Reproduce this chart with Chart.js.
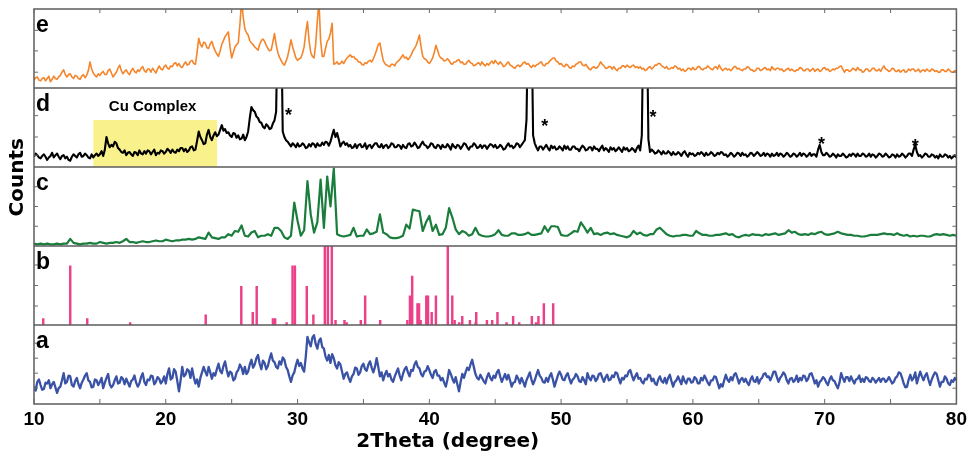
<!DOCTYPE html>
<html lang="en">
<head>
<meta charset="UTF-8">
<title>XRD patterns</title>
<script src="https://cdn.jsdelivr.net/npm/chart.js"></script>
<style>
  body { margin: 0; background: #fff; }
</style>
</head>
<body>
<canvas id="xrd" width="971" height="454"></canvas>
<script>
// scans start at 10 deg 2theta; a, d, e are stepped at 0.125 deg, c at 0.25 deg
const theta0 = 10
const fineStep = 0.125
const coarseStep = 0.25

// counts are in % of each panel's height (values over 100 run off the top)
const countsE = [
  10, 13, 14, 10, 9, 12, 13, 9, 12, 15, 8, 11, 15, 12, 11, 14,
  16, 20, 23, 17, 14, 17, 18, 14, 12, 16, 15, 12, 11, 15, 17, 13,
  16, 22, 33, 24, 19, 16, 14, 18, 16, 19, 21, 17, 17, 22, 24, 19,
  14, 17, 20, 25, 29, 22, 18, 21, 23, 19, 17, 22, 25, 21, 19, 23,
  21, 25, 27, 22, 20, 24, 24, 20, 25, 22, 19, 24, 28, 24, 23, 27,
  29, 25, 24, 28, 27, 31, 32, 28, 31, 27, 26, 30, 33, 29, 30, 34,
  35, 31, 30, 45, 63, 55, 52, 58, 57, 51, 50, 56, 59, 52, 47, 43,
  40, 47, 55, 60, 65, 68, 71, 52, 38, 45, 52, 55, 57, 80, 110, 90,
  75, 70, 67, 60, 57, 55, 52, 50, 48, 55, 60, 62, 59, 54, 50, 47,
  48, 58, 69, 55, 45, 39, 35, 31, 29, 34, 40, 50, 61, 52, 45, 38,
  35, 37, 38, 44, 52, 70, 84, 60, 45, 40, 38, 55, 85, 110, 60, 40,
  40, 50, 59, 62, 70, 82, 30, 31, 33, 30, 31, 34, 31, 35, 38, 40,
  42, 39, 40, 37, 36, 33, 33, 30, 29, 32, 31, 34, 35, 33, 37, 42,
  48, 55, 57, 45, 35, 31, 29, 28, 27, 30, 30, 28, 32, 34, 36, 39,
  42, 38, 39, 36, 38, 42, 47, 50, 54, 60, 67, 52, 40, 37, 36, 33,
  31, 34, 38, 45, 54, 48, 41, 38, 37, 34, 35, 37, 35, 31, 30, 33,
  33, 35, 36, 32, 33, 30, 30, 33, 35, 32, 31, 28, 29, 31, 32, 29,
  33, 30, 28, 31, 29, 32, 34, 31, 35, 32, 30, 33, 31, 27, 28, 31,
  33, 29, 28, 26, 25, 28, 29, 27, 29, 32, 33, 30, 31, 28, 26, 29,
  27, 29, 30, 32, 33, 29, 28, 31, 31, 34, 36, 38, 38, 34, 33, 30,
  31, 28, 27, 30, 29, 26, 25, 28, 27, 30, 31, 33, 33, 29, 28, 30,
  27, 24, 23, 26, 27, 25, 26, 29, 33, 30, 28, 25, 25, 27, 27, 24,
  27, 24, 22, 25, 25, 28, 28, 26, 29, 27, 26, 28, 29, 26, 27, 25,
  27, 24, 25, 22, 23, 26, 27, 24, 26, 29, 29, 31, 31, 28, 27, 25,
  27, 24, 24, 26, 25, 28, 27, 24, 25, 22, 24, 21, 22, 25, 25, 23,
  26, 23, 24, 27, 27, 24, 23, 25, 25, 28, 26, 24, 23, 26, 27, 24,
  29, 25, 22, 24, 25, 23, 24, 22, 24, 27, 27, 24, 25, 23, 22, 24,
  24, 27, 26, 23, 23, 21, 22, 25, 25, 22, 23, 25, 26, 23, 24, 22,
  27, 24, 23, 25, 25, 23, 24, 21, 22, 24, 25, 22, 24, 22, 21, 23,
  23, 26, 25, 22, 22, 24, 24, 21, 23, 25, 21, 23, 24, 21, 22, 25,
  26, 23, 24, 21, 22, 24, 23, 25, 25, 27, 28, 24, 20, 23, 23, 21,
  22, 25, 24, 22, 26, 23, 23, 20, 21, 24, 24, 21, 22, 25, 25, 22,
  22, 24, 21, 25, 28, 24, 23, 21, 22, 25, 24, 21, 21, 23, 20, 22,
  23, 20, 21, 24, 22, 24, 24, 21, 22, 24, 20, 22, 23, 21, 24, 22,
  21, 24, 23, 21, 22, 20, 20, 23, 23, 21, 21, 24, 22, 20, 20, 22,
  21
]

const countsD = [
  13, 17, 15, 12, 11, 14, 16, 13, 9, 12, 14, 18, 12, 15, 17, 13,
  10, 14, 15, 11, 13, 9, 8, 13, 16, 14, 12, 16, 18, 13, 14, 17,
  15, 12, 11, 16, 12, 15, 17, 14, 16, 20, 14, 22, 38, 30, 25, 28,
  26, 32, 30, 24, 22, 19, 18, 21, 15, 18, 19, 16, 14, 19, 18, 15,
  21, 17, 16, 20, 17, 21, 20, 16, 19, 22, 15, 18, 17, 21, 20, 17,
  19, 23, 21, 18, 22, 19, 18, 22, 20, 24, 24, 20, 23, 19, 21, 25,
  26, 21, 22, 33, 45, 38, 34, 29, 30, 41, 47, 38, 34, 40, 44, 39,
  41, 47, 53, 46, 48, 43, 44, 40, 38, 43, 42, 37, 40, 35, 36, 41,
  34, 38, 45, 62, 76, 72, 70, 64, 62, 57, 56, 51, 49, 54, 52, 48,
  49, 55, 59, 70, 200, 200, 200, 45, 38, 34, 32, 29, 26, 30, 28, 25,
  30, 26, 27, 30, 28, 24, 25, 29, 26, 30, 29, 25, 30, 27, 27, 31,
  28, 32, 31, 27, 32, 40, 47, 38, 43, 35, 26, 30, 32, 28, 30, 26,
  28, 24, 25, 29, 24, 28, 29, 25, 26, 30, 23, 27, 28, 24, 27, 30,
  30, 26, 25, 29, 24, 27, 28, 24, 26, 30, 29, 25, 25, 28, 27, 23,
  28, 25, 24, 29, 30, 26, 27, 31, 28, 24, 25, 29, 32, 28, 27, 24,
  26, 30, 29, 25, 24, 28, 27, 23, 28, 25, 25, 29, 26, 22, 29, 26,
  24, 28, 27, 23, 26, 30, 29, 25, 22, 26, 26, 30, 28, 24, 25, 28,
  24, 27, 27, 23, 26, 29, 28, 25, 28, 24, 25, 28, 26, 22, 23, 27,
  30, 26, 27, 24, 26, 30, 29, 25, 28, 31, 34, 60, 200, 200, 200, 40,
  30, 25, 21, 26, 26, 22, 25, 28, 24, 21, 27, 24, 26, 22, 23, 26,
  24, 21, 27, 23, 26, 22, 22, 26, 26, 23, 23, 20, 24, 27, 25, 21,
  22, 25, 25, 21, 26, 23, 23, 20, 24, 27, 21, 24, 22, 19, 25, 22,
  24, 20, 22, 25, 22, 19, 25, 22, 24, 20, 21, 24, 22, 19, 24, 27,
  21, 40, 200, 200, 200, 35, 19, 22, 20, 17, 18, 21, 19, 16, 20, 17,
  17, 20, 18, 15, 19, 16, 16, 19, 17, 14, 18, 20, 16, 13, 18, 16,
  17, 14, 15, 18, 16, 19, 17, 14, 18, 15, 16, 19, 17, 14, 15, 18,
  16, 19, 18, 15, 16, 13, 15, 18, 16, 13, 15, 18, 17, 14, 18, 15,
  16, 13, 15, 18, 17, 14, 16, 19, 17, 14, 15, 18, 14, 17, 16, 13,
  17, 14, 15, 18, 14, 17, 16, 13, 15, 18, 16, 13, 14, 17, 16, 13,
  15, 18, 14, 17, 16, 13, 15, 18, 14, 16, 16, 13, 22, 28, 19, 15,
  15, 18, 16, 13, 14, 17, 15, 12, 16, 14, 14, 17, 15, 12, 13, 16,
  14, 17, 16, 13, 17, 14, 14, 17, 16, 13, 14, 17, 13, 16, 15, 12,
  14, 17, 16, 13, 14, 17, 15, 12, 13, 16, 15, 12, 16, 13, 14, 17,
  15, 12, 14, 17, 17, 14, 22, 28, 19, 14, 15, 12, 14, 17, 16, 13,
  13, 16, 15, 12, 14, 11, 16, 13, 13, 16, 15, 12, 14, 11, 13, 15,
  12
]

const countsC = [
  3, 2, 3, 2, 3, 2, 2, 3,
  2, 3, 3, 9, 4, 3, 2, 3,
  3, 4, 3, 3, 5, 4, 3, 4,
  4, 5, 4, 6, 9, 5, 5, 4,
  5, 6, 5, 5, 6, 7, 6, 6,
  8, 7, 6, 7, 7, 8, 8, 9,
  8, 9, 11, 10, 9, 17, 11, 10,
  9, 11, 11, 15, 13, 19, 18, 26,
  13, 12, 17, 19, 11, 13, 13, 15,
  13, 23, 23, 19, 11, 9, 13, 55,
  32, 13, 20, 82, 40, 17, 30, 84,
  23, 88, 50, 98, 15, 13, 12, 13,
  14, 23, 12, 13, 13, 21, 15, 16,
  18, 40, 17, 15, 11, 10, 10, 11,
  13, 27, 22, 46, 45, 44, 19, 30,
  38, 19, 27, 14, 15, 23, 48, 36,
  21, 15, 19, 17, 13, 15, 23, 15,
  13, 12, 12, 13, 15, 20, 14, 13,
  13, 16, 16, 14, 14, 15, 17, 14,
  14, 15, 16, 25, 18, 25, 25, 24,
  14, 13, 13, 16, 19, 18, 30, 24,
  17, 23, 15, 16, 14, 16, 17, 15,
  16, 14, 13, 12, 11, 13, 19, 15,
  17, 14, 13, 15, 15, 21, 23, 19,
  15, 13, 12, 13, 13, 14, 14, 13,
  13, 19, 16, 14, 14, 13, 13, 14,
  14, 15, 16, 14, 15, 12, 11, 13,
  14, 13, 15, 14, 14, 13, 15, 14,
  15, 16, 14, 15, 16, 20, 17, 18,
  15, 14, 15, 14, 16, 15, 17, 18,
  15, 14, 15, 16, 18, 16, 15, 14,
  14, 13, 13, 12, 12, 13, 14, 14,
  14, 15, 16, 15, 15, 14, 16, 14,
  13, 14, 12, 13, 12, 13, 13, 12,
  12, 14, 15, 14, 15, 14, 13, 14,
  13
]

const countsA = [
  22, 17, 28, 31, 24, 18, 19, 27, 26, 30, 20, 25, 28, 21, 14, 20,
  22, 30, 39, 26, 28, 36, 35, 24, 22, 29, 33, 25, 20, 27, 31, 36,
  39, 30, 28, 21, 22, 31, 30, 24, 28, 33, 20, 27, 33, 38, 25, 21,
  24, 30, 35, 26, 27, 34, 32, 25, 32, 27, 22, 29, 31, 36, 27, 22,
  26, 34, 39, 28, 24, 31, 30, 36, 35, 25, 28, 34, 32, 26, 29, 35,
  26, 38, 45, 31, 33, 44, 41, 29, 16, 30, 47, 35, 37, 44, 42, 33,
  45, 34, 26, 31, 22, 33, 40, 47, 41, 36, 47, 40, 32, 39, 36, 44,
  51, 42, 39, 48, 54, 43, 35, 41, 39, 30, 32, 40, 43, 50, 46, 38,
  47, 38, 41, 50, 56, 46, 50, 58, 62, 51, 44, 55, 52, 44, 48, 57,
  64, 55, 53, 47, 45, 54, 50, 59, 56, 47, 43, 35, 28, 36, 40, 49,
  56, 48, 52, 45, 41, 60, 85, 78, 73, 84, 87, 76, 70, 80, 83, 72,
  70, 60, 55, 62, 52, 63, 58, 49, 45, 53, 50, 41, 32, 38, 40, 33,
  28, 35, 38, 46, 45, 37, 40, 48, 51, 44, 42, 50, 54, 46, 40, 47,
  58, 47, 35, 40, 30, 37, 42, 35, 38, 31, 28, 35, 40, 45, 36, 30,
  38, 44, 47, 40, 35, 43, 42, 50, 54, 47, 45, 38, 35, 41, 42, 48,
  43, 37, 33, 41, 43, 36, 36, 30, 33, 27, 22, 31, 43, 38, 32, 27,
  34, 25, 16, 28, 38, 33, 40, 46, 43, 50, 56, 47, 38, 33, 31, 37,
  33, 29, 26, 34, 39, 33, 30, 36, 33, 40, 43, 35, 28, 33, 38, 31,
  37, 30, 22, 27, 28, 36, 32, 26, 33, 28, 22, 30, 35, 40, 31, 25,
  30, 37, 43, 36, 33, 28, 27, 33, 28, 35, 39, 31, 22, 29, 36, 41,
  37, 31, 30, 36, 39, 32, 26, 31, 33, 38, 35, 29, 28, 34, 30, 25,
  39, 33, 30, 36, 35, 29, 32, 38, 39, 33, 28, 34, 37, 30, 31, 36,
  34, 40, 39, 32, 26, 33, 31, 36, 35, 41, 43, 36, 30, 35, 39, 32,
  33, 28, 26, 32, 31, 37, 36, 29, 32, 26, 24, 31, 35, 29, 27, 33,
  26, 33, 37, 29, 22, 28, 30, 35, 30, 25, 35, 29, 26, 32, 32, 27,
  28, 34, 32, 26, 26, 33, 30, 36, 32, 27, 24, 30, 30, 35, 34, 27,
  20, 25, 22, 30, 37, 31, 28, 34, 30, 37, 39, 33, 26, 31, 33, 28,
  32, 27, 24, 31, 35, 29, 28, 34, 26, 31, 33, 38, 39, 34, 35, 30,
  35, 41, 41, 34, 28, 33, 36, 40, 37, 30, 26, 32, 33, 28, 30, 36,
  28, 33, 30, 36, 35, 29, 32, 38, 39, 33, 26, 30, 22, 28, 30, 34,
  32, 27, 24, 31, 35, 30, 29, 24, 20, 27, 39, 33, 28, 34, 34, 29,
  35, 30, 26, 31, 32, 36, 28, 32, 28, 34, 33, 29, 28, 33, 31, 27,
  30, 33, 28, 32, 32, 28, 30, 34, 30, 26, 28, 33, 35, 40, 39, 33,
  26, 21, 22, 31, 37, 30, 33, 40, 26, 34, 41, 35, 30, 36, 39, 31,
  24, 31, 36, 40, 38, 30, 22, 28, 28, 35, 32, 26, 24, 30, 28, 33,
  30
]

// reference pattern (b): line positions and relative intensities
const stickTheta = [10.7, 12.75, 14.04, 17.3, 23.03, 25.73, 26.6, 26.9, 28.13, 28.3,
  29.17, 29.62, 29.8, 30.7, 31.2, 32.07, 32.3, 32.6, 32.88, 33.56,
  33.73, 34.8, 35.13, 36.27, 38.33, 38.53, 38.7, 39.1, 39.22, 39.34,
  39.77, 39.9, 40.18, 40.5, 41.4, 41.74, 41.92, 42.27, 42.5, 43.08,
  43.51, 43.56, 44.37, 44.77, 45.17, 45.86, 46.36, 46.82, 47.78, 48.1,
  48.28, 48.69, 49.4]
const stickInt = [8, 75, 8, 3, 13, 49, 16, 49, 8, 8,
  3, 75, 75, 49, 13, 100, 100, 100, 6, 6,
  3, 6, 37, 6, 6, 37, 62, 27, 27, 6,
  37, 37, 16, 37, 100, 37, 6, 3, 11, 6,
  3, 16, 6, 6, 16, 3, 11, 3, 11, 3,
  11, 27, 27]

// impurity reflections marked with * in pattern (d)
const starTheta = [29.32, 48.75, 56.97, 69.77, 76.87]
const starCounts = [71, 57, 68, 34, 32]

// highlighted Cu complex region in pattern (d)
const cuRange = [14.49, 23.91]
const cuTop = 59.5

const panelLabels = ['a', 'b', 'c', 'd', 'e']   // bottom to top
const xTicks = [10, 20, 30, 40, 50, 60, 70, 80]
// small inner ticks on the side axes, % of panel height
const sideTicks = [[20, 39, 58, 77], [24, 50, 76], [25, 50, 75], [15, 38, 65], [20, 47, 73]]

const font = "'Liberation Sans', Arial, sans-serif"
const titleFont = "'DejaVu Sans', sans-serif"

function toPoints(counts, panel, step) {
  return counts.map((v, i) => ({ x: theta0 + i * step, y: panel + v / 100 }))
}

function lineSet(counts, step, panel, color, width) {
  return {
    type: 'line',
    data: toPoints(counts, panel, step),
    panel: panel,
    borderColor: color,
    borderWidth: width,
    borderJoinStyle: 'round',
    pointRadius: 0,
    fill: false,
    tension: 0
  }
}

// keep each pattern inside its own panel
const panelClip = {
  id: 'panelClip',
  beforeDatasetDraw(chart, args) {
    const ds = chart.data.datasets[args.index]
    if (ds.panel === undefined) return
    const { left, right } = chart.chartArea
    const y = chart.scales.y
    const top = y.getPixelForValue(ds.panel + 1)
    const bottom = y.getPixelForValue(ds.panel)
    chart.ctx.save()
    chart.ctx.beginPath()
    chart.ctx.rect(left, top, right - left, bottom - top)
    chart.ctx.clip()
  },
  afterDatasetDraw(chart, args) {
    const ds = chart.data.datasets[args.index]
    if (ds.panel === undefined) return
    chart.ctx.restore()
  }
}

// frame, panel dividers, inward ticks and all the text
const decor = {
  id: 'decor',
  afterDraw(chart) {
    const ctx = chart.ctx
    const { left, right, top, bottom } = chart.chartArea
    const x = chart.scales.x
    const y = chart.scales.y
    ctx.save()
    ctx.strokeStyle = '#5c5c5c'
    ctx.lineWidth = 1.5
    ctx.strokeRect(left, top, right - left, bottom - top)
    ctx.beginPath()
    for (let p = 1; p < 5; p++) {
      const py = y.getPixelForValue(p)
      ctx.moveTo(left, py)
      ctx.lineTo(right, py)
    }
    ctx.stroke()

    ctx.lineWidth = 1
    ctx.strokeStyle = '#6a6a6a'
    ctx.beginPath()
    for (let t = 10; t <= 80; t += 5) {
      const px = x.getPixelForValue(t)
      ctx.moveTo(px, bottom)
      ctx.lineTo(px, bottom - 5)
      ctx.moveTo(px, top)
      ctx.lineTo(px, top + 4)
    }
    sideTicks.forEach((list, p) => {
      list.forEach(v => {
        const py = y.getPixelForValue(p + v / 100)
        ctx.moveTo(left, py)
        ctx.lineTo(left + 4, py)
        ctx.moveTo(right, py)
        ctx.lineTo(right - 4, py)
      })
    })
    ctx.stroke()

    ctx.fillStyle = '#000'
    ctx.textAlign = 'left'
    ctx.textBaseline = 'alphabetic'
    ctx.font = 'bold 23px ' + font
    panelLabels.forEach((lab, p) => {
      ctx.fillText(lab, left + 2, y.getPixelForValue(p + 1) + 23)
    })

    ctx.textAlign = 'center'
    ctx.font = 'bold 15px ' + font
    ctx.textBaseline = 'middle'
    ctx.fillText('Cu Complex', x.getPixelForValue(19.0), y.getPixelForValue(3.76))

    ctx.font = 'bold 18px ' + font
    ctx.textBaseline = 'alphabetic'
    starTheta.forEach((t, i) => {
      ctx.fillText('*', x.getPixelForValue(t), y.getPixelForValue(3 + starCounts[i] / 100) + 10)
    })

    ctx.font = 'bold 20px ' + titleFont
    ctx.fillText('2Theta (degree)', x.getPixelForValue(41.4), 447)
    ctx.translate(left - 16, y.getPixelForValue(2.87))
    ctx.rotate(-Math.PI / 2)
    ctx.textBaseline = 'middle'
    ctx.fillText('Counts', 0, 0)
    ctx.restore()
  }
}

const datasets = [
  lineSet(countsE, fineStep, 4, '#f5852a', 1.6),
  lineSet(countsD, fineStep, 3, '#000000', 2.1),
  lineSet(countsC, coarseStep, 2, '#1a7d3c', 2.2),
  lineSet(countsA, fineStep, 0, '#3a52a5', 2.3),
  {
    type: 'bar',
    data: stickTheta.map((t, i) => ({ x: t, y: [1, 1 + stickInt[i] / 100] })),
    panel: 1,
    backgroundColor: '#ec4189',
    borderWidth: 0,
    barThickness: 1.8,
    grouped: false,
    order: 5
  },
  {
    type: 'line',
    data: [{ x: cuRange[0], y: 3 + cuTop / 100 }, { x: cuRange[1], y: 3 + cuTop / 100 }],
    borderWidth: 0,
    pointRadius: 0,
    backgroundColor: '#f9f18c',
    fill: { value: 3 },
    order: 10
  }
]

new Chart(document.getElementById('xrd'), {
  type: 'line',
  data: { datasets: datasets },
  options: {
    responsive: false,
    animation: false,
    devicePixelRatio: 1,
    layout: { padding: { left: 34, right: 13, top: 9, bottom: 0 } },
    plugins: { legend: { display: false }, tooltip: { enabled: false } },
    scales: {
      x: {
        type: 'linear',
        min: 10,
        max: 80,
        offset: false,
        afterBuildTicks: scale => { scale.ticks = xTicks.map(v => ({ value: v })) },
        afterFit: scale => { scale.height = 50 },
        ticks: {
          padding: 4,
          color: '#000',
          font: { family: font, size: 19, weight: 'bold' }
        },
        grid: { display: false, drawTicks: false },
        border: { display: false }
      },
      y: {
        display: false,
        min: 0,
        max: 5
      }
    }
  },
  plugins: [panelClip, decor]
})
</script>
</body>
</html>
